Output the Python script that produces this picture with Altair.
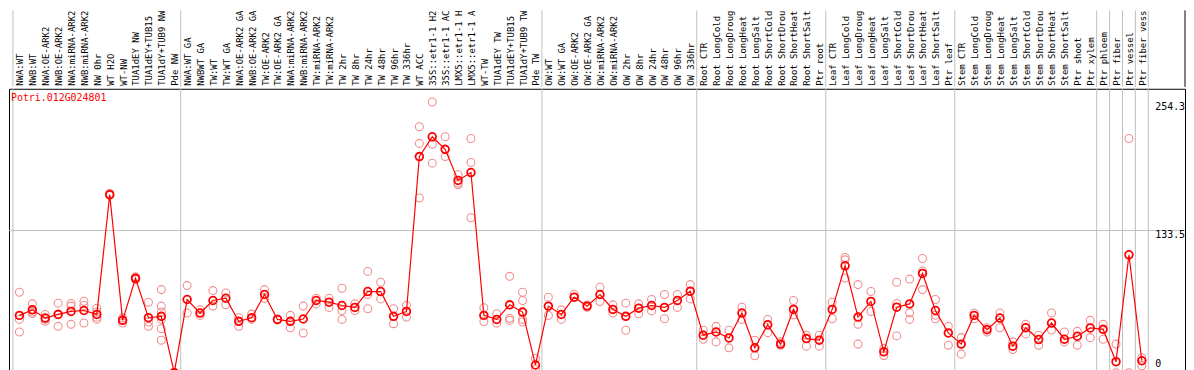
import altair as alt
import pandas as pd

gene = "Potri.012G024801"

labels = [
    # group 1
    "NWA:WT", "NWB:WT", "NWA:OE-ARK2", "NWB:OE-ARK2", "NWA:miRNA-ARK2", "NWB:miRNA-ARK2",
    "NW 0hr", "WT H2O", "WT-NW", "TUA1dEY NW", "TUA1dEY+TUB15", "TUA1dY+TUB9 NW", "Pde NW",
    # group 2
    "NWA:WT GA", "NWBWT GA", "TW:WT", "TW:WT GA", "NWA:OE-ARK2 GA", "NWB:OE-ARK2 GA",
    "TW:OE-ARK2", "TW:OE-ARK2 GA", "NWA:miRNA-ARK2", "NWB:miRNA-ARK2", "TW:miRNA-ARK2",
    "TW:miRNA-ARK2", "TW 2hr", "TW 8hr", "TW 24hr", "TW 48hr", "TW 96hr", "TW 336hr",
    "WT ACC", "35S::etr1-1 H2", "35S::etr1-1 AC", "LMX5::etr1-1 H", "LMX5::etr1-1 A",
    "WT-TW", "TUA1dEY TW", "TUA1dEY+TUB15", "TUA1dY+TUB9 TW", "Pde TW",
    # group 3
    "OW:WT", "OW:WT GA", "OW:OE-ARK2", "OW:OE-ARK2 GA", "OW:miRNA-ARK2", "OW:miRNA-ARK2",
    "OW 2hr", "OW 8hr", "OW 24hr", "OW 48hr", "OW 96hr", "OW 336hr",
    # root
    "Root CTR", "Root LongCold", "Root LongDroug", "Root LongHeat", "Root LongSalt",
    "Root ShortCold", "Root ShortDrou", "Root ShortHeat", "Root ShortSalt", "Ptr root",
    # leaf
    "Leaf CTR", "Leaf LongCold", "Leaf LongDroug", "Leaf LongHeat", "Leaf LongSalt",
    "Leaf ShortCold", "Leaf ShortDrou", "Leaf ShortHeat", "Leaf ShortSalt", "Ptr leaf",
    # stem
    "Stem CTR", "Stem LongCold", "Stem LongDroug", "Stem LongHeat", "Stem LongSalt",
    "Stem ShortCold", "Stem ShortDrou", "Stem ShortHeat", "Stem ShortSalt", "Ptr shoot",
    "Ptr xylem",
    # singles
    "Ptr phloem", "Ptr fiber", "Ptr vessel", "Ptr fiber vess",
]

group_sizes = [13, 28, 12, 10, 10, 11, 1, 1, 1, 1]

means = [
    53.8, 59.0, 51.3, 54.7, 57.5, 58.4, 54.7, 167.2, 49.1, 88.6, 51.6, 52.9, 0.0,
    68.7, 56.0, 67.8, 69.9, 48.2, 51.6, 73.4, 50.0, 48.2, 50.4, 67.8, 66.2, 63.1, 61.3,
    76.2, 76.2, 52.9, 57.5, 203.0, 221.6, 209.8, 180.6, 188.0, 53.8, 50.0, 63.7, 56.9, 7.2,
    62.5, 54.7, 70.9, 62.5, 73.4, 59.4, 52.9, 60.6, 63.1, 61.3, 67.8, 76.5,
    35.2, 38.2, 32.6, 56.0, 23.3, 45.0, 26.8, 59.4, 32.0, 30.5,
    59.4, 100.4, 52.2, 66.9, 19.6, 61.5, 64.6, 93.2, 58.4, 37.3,
    26.8, 53.8, 40.4, 51.3, 24.9, 42.2, 31.1, 46.6, 31.4, 34.2, 42.0,
    40.7, 10.3, 110.7, 11.2,
]

replicates = [
    [75.5, 50.0, 38.2], [64.6, 56.9, 55.5], [54.7, 50.0, 48.2], [65.3, 43.5, 55.0],
    [65.0, 62.5, 45.4], [67.1, 63.1, 46.6], [60.6, 57.0, 52.0, 50.0], [168.5, 166.5, 167.0],
    [51.5, 46.6, 50.0], [90.0, 87.5, 88.0], [66.2, 47.6, 43.5],
    [78.0, 62.5, 57.0, 50.0, 41.3, 30.5], [0.0, 0.0, 0.0],
    [81.8, 56.0], [59.0, 53.8], [77.1, 62.5], [74.9, 63.7], [51.6, 43.5], [55.0, 50.0],
    [78.0, 69.9], [50.5, 49.5], [53.8, 42.2], [62.5, 37.3], [69.9, 64.6], [69.9, 61.3],
    [79.3, 58.4, 50.0], [64.6, 58.4], [95.1, 73.4, 60.0], [84.9, 69.3], [60.0, 46.0],
    [63.1, 52.2], [231.0, 215.4, 164.1], [254.3, 214.5, 196.8], [221.6, 203.0],
    [185.9, 176.5, 178.0], [220.0, 197.4, 145.5], [61.0, 48.0], [55.3, 46.5],
    [90.5, 51.0, 49.1], [75.5, 67.8, 50.0, 47.6], [13.3, 3.0],
    [70.9, 53.8], [59.0, 50.0], [73.4, 70.9], [63.5, 61.5], [80.2, 66.9], [63.7, 56.0],
    [65.3, 39.8], [64.6, 55.3], [68.7, 58.0], [73.4, 50.6], [73.4, 61.3], [82.7, 69.3],
    [39.8, 31.4], [43.5, 28.9], [39.8, 23.3], [61.5, 50.0], [30.5, 15.9], [50.0, 37.6],
    [28.9, 25.8], [67.8, 54.4], [35.2, 24.9], [35.2, 24.9],
    [66.2, 50.6], [108.2, 106.0, 88.9], [82.7, 45.4, 26.8], [76.2, 57.5], [22.8, 16.0],
    [84.9, 65.0, 34.5], [87.9, 56.0, 50.0], [107.2, 95.5, 78.0], [68.7, 54.0, 50.6],
    [43.5, 25.8],
    [32.9, 17.4], [56.0, 50.6], [42.2, 38.2], [56.0, 42.2], [28.9, 21.8], [45.4, 36.4],
    [35.2, 25.8], [56.0, 40.0], [38.2, 28.9], [38.8, 25.8], [49.1, 32.9],
    [45.4, 31.4], [26.8, 0.0], [220.0, 0.0], [14.0, 6.5],
]

axis_values = [254.3, 133.5, 0.0]
axis_labels = ["254.3", "133.5", "0"]
grid_value = 133.5

# ---- layout (pixels) ----
W = 1185
HEADER_H = 77
PLOT_H = 284
STEP = 13.0
FIRST = 10.5
x_dom = [-FIRST / STEP, (W - FIRST) / STEP]
y_dom = [1.9, 266.7]
FONT = "DejaVu Sans Mono"

n = len(labels)
df_mean = pd.DataFrame({"i": list(range(n)), "label": labels, "value": means})
df_rep = pd.DataFrame(
    [(i, v) for i, vals in enumerate(replicates) for v in vals], columns=["i", "value"]
)
bounds = [-0.5]
acc = 0
for g in group_sizes:
    acc += g
    bounds.append(acc - 0.5)
df_b = pd.DataFrame({"b": bounds})
df_edge = pd.DataFrame({"b": [x_dom[1]]})
df_ticks = pd.DataFrame({"v": axis_values, "t": axis_labels})
df_grid = pd.DataFrame({"v": [grid_value]})
df_gene = pd.DataFrame({"t": [gene]})

xs = alt.Scale(domain=x_dom, nice=False, zero=False)
ys = alt.Scale(domain=y_dom, nice=False, zero=False)
X = alt.X("i:Q", scale=xs, axis=None)
Y = alt.Y("value:Q", scale=ys, axis=None)

# ---- header ----
h_rules = alt.Chart(df_b).mark_rule(color="#c0c0c0", strokeWidth=1).encode(
    x=alt.X("b:Q", scale=xs, axis=None)
)
h_edge = alt.Chart(df_edge).mark_rule(color="black", strokeWidth=1).encode(
    x=alt.X("b:Q", scale=xs, axis=None)
)
h_text = alt.Chart(df_mean).mark_text(
    angle=270, align="left", baseline="middle", font=FONT, fontSize=9,
    color="black", clip=True, dy=1,
).encode(x=X, y=alt.value(HEADER_H - 1), text="label:N")

header = alt.layer(h_rules, h_edge, h_text).properties(
    width=W, height=HEADER_H, view=alt.ViewBackground(stroke=None)
)

# ---- plot ----
p_vgrid = alt.Chart(df_b).mark_rule(color="#c0c0c0", strokeWidth=1).encode(
    x=alt.X("b:Q", scale=xs, axis=None)
)
p_hgrid = alt.Chart(df_grid).mark_rule(color="#c0c0c0", strokeWidth=1).encode(
    y=alt.Y("v:Q", scale=ys, axis=None)
)
p_reps = alt.Chart(df_rep).mark_point(
    shape="circle", filled=False, color="#f08e8e", size=64, strokeWidth=1.1, opacity=1, clip=True
).encode(x=X, y=Y)
p_line = alt.Chart(df_mean).mark_line(color="#ff0000", strokeWidth=1.2, clip=True).encode(x=X, y=Y)
p_means = alt.Chart(df_mean).mark_point(
    shape="circle", filled=False, color="#ff0000", size=60, strokeWidth=1.8, opacity=1, clip=True
).encode(x=X, y=Y)
p_ticks_hi = alt.Chart(df_ticks).transform_filter("datum.v > 0").mark_text(
    align="left", baseline="top", font=FONT, fontSize=10, color="black", dy=0
).encode(x=alt.value(W - 30), y=alt.Y("v:Q", scale=ys, axis=None), text="t:N")
p_ticks_lo = alt.Chart(df_ticks).transform_filter("datum.v <= 0").mark_text(
    align="left", baseline="bottom", font=FONT, fontSize=10, color="black", dy=-4
).encode(x=alt.value(W - 30), y=alt.Y("v:Q", scale=ys, axis=None), text="t:N")
p_gene = alt.Chart(df_gene).mark_text(
    align="left", baseline="middle", font=FONT, fontSize=10, color="#ff0000"
).encode(x=alt.value(2), y=alt.value(9), text="t:N")

plot = alt.layer(
    p_vgrid, p_hgrid, p_reps, p_line, p_means, p_ticks_hi, p_ticks_lo, p_gene
).properties(
    width=W, height=PLOT_H, view=alt.ViewBackground(stroke="black", strokeWidth=1)
)

chart = alt.vconcat(header, plot, spacing=0).properties(padding=0).configure(
    background="white"
)

chart.save("out.html", embed_options={"renderer": "svg", "actions": False})
